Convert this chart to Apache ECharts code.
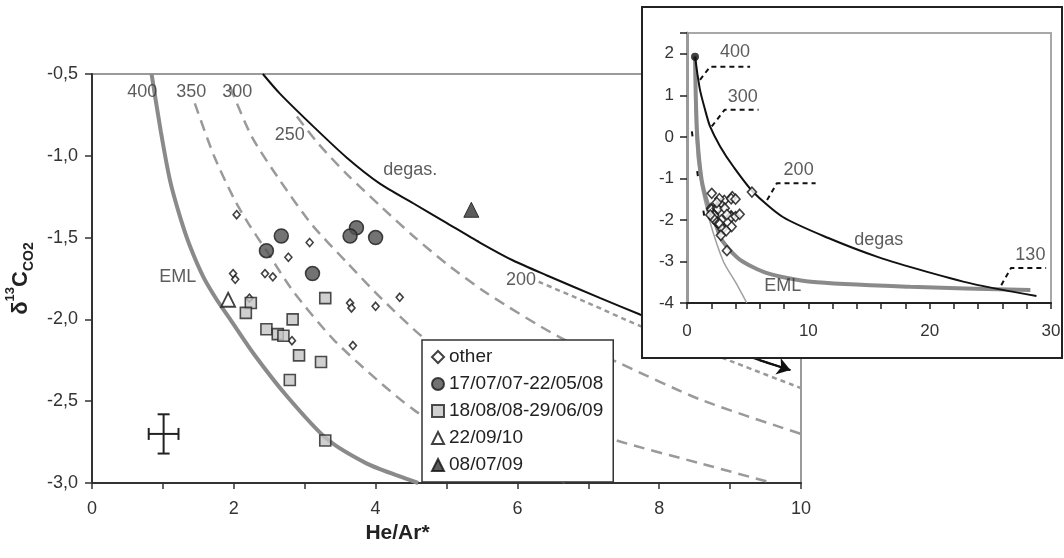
<!DOCTYPE html>
<html><head><meta charset="utf-8">
<script src="https://cdn.jsdelivr.net/npm/echarts@6/dist/echarts.min.js"></script>
<style>html,body{margin:0;padding:0;background:#fff}#c{width:1064px;height:558px}</style>
</head><body><div id="c"></div>
<script>
// ---------- main chart: samples ----------
const otherX = [2.04, 3.07, 2.77, 1.99, 2.02, 2.44, 2.55, 3.64, 3.66, 4.00, 4.34, 2.82, 3.68, 2.22];
const otherY = [-1.36, -1.53, -1.62, -1.72, -1.755, -1.72, -1.74, -1.90, -1.93, -1.92, -1.865, -2.13, -2.16, -1.87];
const circX = [2.67, 2.46, 3.11, 3.73, 3.64, 4.00];
const circY = [-1.49, -1.58, -1.72, -1.44, -1.49, -1.50];
const sqX = [2.24, 2.17, 3.29, 2.83, 2.46, 2.62, 2.70, 2.92, 3.23, 2.79, 3.29];
const sqY = [-1.90, -1.96, -1.87, -2.00, -2.06, -2.09, -2.10, -2.22, -2.26, -2.37, -2.74];
const openTriX = [1.92];
const openTriY = [-1.88];
const fillTriX = [5.35];
const fillTriY = [-1.33];
// analytical error (cross)
const errX = [1.01], errY = [-2.70], errDx = [0.21], errDy = [0.12];

// ---------- main chart: curves ----------
const emlX = [0.84, 0.97, 1.10, 1.24, 1.38, 1.57, 1.76, 1.95, 2.28, 2.75, 3.31, 3.87, 4.34, 4.60];
const emlY = [-0.50, -0.85, -1.15, -1.37, -1.55, -1.74, -1.88, -2.00, -2.21, -2.47, -2.73, -2.88, -2.96, -3.00];
const iso350X = [1.45, 1.72, 2.00, 2.20, 2.46, 2.84, 3.40, 3.97, 4.53, 5.30, 6.00, 6.70];
const iso350Y = [-0.68, -1.00, -1.26, -1.41, -1.58, -1.83, -2.12, -2.35, -2.55, -2.76, -2.90, -3.00];
const iso300X = [1.95, 2.25, 2.65, 3.10, 3.59, 4.10, 4.67, 5.50, 6.50, 7.40, 8.58, 9.60];
const iso300Y = [-0.58, -0.88, -1.15, -1.42, -1.65, -1.88, -2.11, -2.37, -2.60, -2.74, -2.88, -3.00];
const iso250X = [2.89, 3.20, 3.59, 4.10, 4.53, 5.00, 5.57, 6.60, 7.40, 8.58, 10.00];
const iso250Y = [-0.76, -0.93, -1.11, -1.32, -1.49, -1.66, -1.84, -2.11, -2.26, -2.49, -2.70];
const iso200X = [6.30, 7.00, 7.73, 8.40, 9.04, 10.00];
const iso200Y = [-1.77, -1.90, -2.04, -2.15, -2.26, -2.42];
const degasX = [2.41, 2.65, 3.12, 3.59, 4.06, 4.53, 5.00, 5.47, 5.94, 6.41, 7.17, 7.73, 8.60, 9.42, 9.85];
const degasY = [-0.50, -0.62, -0.82, -1.01, -1.17, -1.29, -1.41, -1.53, -1.64, -1.73, -1.87, -1.97, -2.12, -2.25, -2.31];

// main annotations
const mainNoteText = ['400', '350', '300', '250', '200', 'degas.', 'EML'];
const mainNoteX = [0.71, 1.40, 2.05, 2.79, 6.05, 4.49, 1.21];
const mainNoteY = [-0.61, -0.61, -0.61, -0.87, -1.76, -1.09, -1.74];

// ---------- inset curves ----------
const insDegasX = [0.66, 0.85, 1.07, 1.49, 1.90, 2.73, 3.83, 5.43, 7.90, 11.6, 15.7, 19.8, 24.0, 28.8];
const insDegasY = [1.93, 1.53, 1.13, 0.65, 0.25, -0.23, -0.72, -1.32, -1.93, -2.43, -2.89, -3.25, -3.57, -3.83];
const insEmlX = [0.66, 0.72, 0.85, 1.21, 1.70, 2.30, 2.90, 4.38, 6.60, 10.2, 18.4, 28.3];
const insEmlY = [1.93, 1.00, 0.00, -1.04, -1.60, -2.05, -2.50, -2.96, -3.28, -3.49, -3.61, -3.69];
const insThinX = [0.66, 0.73, 1.07, 1.85, 3.00, 4.00, 4.93];
const insThinY = [1.93, 0.00, -1.00, -2.00, -3.00, -3.50, -4.00];
const insDashX = [0.40, 0.90, 1.50, 2.60];
const insDashY = [0.13, -0.95, -2.05, -2.45];
const endMemberX = [0.66], endMemberY = [1.93];
// leader lines + labels
const leaderText = ['400', '300', '200', '130'];
const leaderX = [[1.07, 1.9, 5.2], [2.04, 3.1, 5.9], [6.6, 7.4, 10.6], [25.9, 26.7, 29.6]];
const leaderY = [[1.37, 1.69, 1.69], [0.25, 0.65, 0.65], [-1.52, -1.12, -1.12], [-3.57, -3.16, -3.16]];
const leaderLabelX = [3.96, 4.6, 9.2, 28.3];
const leaderLabelY = [2.05, 0.96, -0.8, -2.84];
const insNoteText = ['degas', 'EML'];
const insNoteX = [15.8, 7.9];
const insNoteY = [-2.48, -3.6];

// tick labels
const yTickFmt = v => v.toFixed(1).replace('.', ',');

const F = "'Liberation Sans', Arial, sans-serif";
const zip = (a, b) => a.map((v, i) => [v, b[i]]);

function curve(name, xs, ys, color, width, type, extra) {
  return Object.assign({
    name, type: 'line', data: zip(xs, ys), symbol: 'none', silent: true, smooth: 0.25,
    lineStyle: { color, width, type }, z: 2
  }, extra || {});
}
function arrowLine(xs, ys, color) {
  const n = xs.length;
  return {
    silent: true, symbol: ['none', 'arrow'], symbolSize: 13,
    lineStyle: { color, width: 2, type: 'solid' }, label: { show: false },
    data: [[{ coord: [xs[n - 2], ys[n - 2]] }, { coord: [xs[n - 1], ys[n - 1]] }]]
  };
}

const ins = { xAxisIndex: 1, yAxisIndex: 1, zlevel: 1, z: 4 };
const allX = otherX.concat(circX, sqX, openTriX, fillTriX);
const allY = otherY.concat(circY, sqY, openTriY, fillTriY);

const series = [
  curve('EML', emlX, emlY, '#8a8a8a', 4, 'solid'),
  curve('350', iso350X, iso350Y, '#9a9a9a', 2.5, [11, 7]),
  curve('300', iso300X, iso300Y, '#9a9a9a', 2.5, [11, 7]),
  curve('250', iso250X, iso250Y, '#9a9a9a', 2.5, [11, 7]),
  curve('200', iso200X, iso200Y, '#9a9a9a', 2.5, [5, 4]),
  curve('degas', degasX, degasY, '#111', 2, 'solid', { markLine: arrowLine(degasX, degasY, '#111') }),
  {
    type: 'scatter', silent: true, symbolSize: 0, z: 3,
    data: mainNoteX.map((x, i) => [x, mainNoteY[i], mainNoteText[i]]),
    label: { show: true, position: 'inside', formatter: p => p.value[2], fontSize: 18, fontFamily: F,
      color: '#333' }
  },
  {
    type: 'custom', silent: true, z: 3,
    data: errX.map((x, i) => [x, errY[i], errDx[i], errDy[i]]),
    renderItem: (params, api) => {
      const x = api.value(0), y = api.value(1), dx = api.value(2), dy = api.value(3);
      const l = api.coord([x - dx, y]), r = api.coord([x + dx, y]);
      const t = api.coord([x, y + dy]), b = api.coord([x, y - dy]);
      const c = 6, st = { stroke: '#222', lineWidth: 2 };
      const ln = (x1, y1, x2, y2) => ({ type: 'line', shape: { x1, y1, x2, y2 }, style: st });
      return { type: 'group', children: [
        ln(l[0], l[1], r[0], r[1]), ln(t[0], t[1], b[0], b[1]),
        ln(l[0], l[1] - c, l[0], l[1] + c), ln(r[0], r[1] - c, r[0], r[1] + c),
        ln(t[0] - c, t[1], t[0] + c, t[1]), ln(b[0] - c, b[1], b[0] + c, b[1])
      ] };
    }
  },
  { name: 'other', type: 'scatter', data: zip(otherX, otherY), symbol: 'diamond', symbolSize: [7, 8], z: 5,
    itemStyle: { color: '#fff', borderColor: '#111', borderWidth: 1.6 } },
  { name: '17/07/07-22/05/08', type: 'scatter', data: zip(circX, circY), symbol: 'circle', symbolSize: 14, z: 5,
    itemStyle: { color: '#505050', borderColor: '#1a1a1a', borderWidth: 1.5 } },
  { name: '18/08/08-29/06/09', type: 'scatter', data: zip(sqX, sqY), symbol: 'rect', symbolSize: 11, z: 5,
    itemStyle: { color: '#c4c4c4', borderColor: '#222', borderWidth: 1.6 } },
  { name: '22/09/10', type: 'scatter', data: zip(openTriX, openTriY), symbol: 'triangle', symbolSize: 14, z: 5,
    itemStyle: { color: '#fff', borderColor: '#111', borderWidth: 1.8 } },
  { name: '08/07/09', type: 'scatter', data: zip(fillTriX, fillTriY), symbol: 'triangle', symbolSize: 15, z: 5,
    itemStyle: { color: '#333', borderColor: '#111', borderWidth: 1 } },

  // ---------- inset ----------
  Object.assign(curve('insThin', insThinX, insThinY, '#a0a0a0', 1.5, 'solid'), ins),
  Object.assign(curve('insEML', insEmlX, insEmlY, '#8a8a8a', 4, 'solid'), ins),
  Object.assign(curve('insDegas', insDegasX, insDegasY, '#111', 2, 'solid',
    { markLine: arrowLine(insDegasX, insDegasY, '#111') }), ins),
  Object.assign(curve('insDash', insDashX, insDashY, '#111', 2, [5, 35], { smooth: false }), ins),
].concat(leaderX.map((xs, k) => Object.assign(
  curve('lead' + k, xs, leaderY[k], '#111', 2, [5, 4], { smooth: false }), ins))
).concat([
  Object.assign({ type: 'scatter', silent: true, data: zip(allX, allY), symbol: 'diamond', symbolSize: [9, 10],
    itemStyle: { color: '#fff', borderColor: '#111', borderWidth: 1.6 } }, ins),
  Object.assign({ type: 'scatter', silent: true, data: zip(endMemberX, endMemberY), symbol: 'circle', symbolSize: 8,
    itemStyle: { color: '#111' } }, ins, { z: 6 }),
  Object.assign({ type: 'scatter', silent: true, symbolSize: 0,
    data: leaderLabelX.map((x, i) => [x, leaderLabelY[i], leaderText[i]])
      .concat(insNoteX.map((x, i) => [x, insNoteY[i], insNoteText[i]])),
    label: { show: true, position: 'inside', formatter: p => p.value[2], fontSize: 18, fontFamily: F, color: '#333' }
  }, ins)
]);

const axLine = (c, w) => ({ show: true, onZero: false, lineStyle: { color: c, width: w } });
const option = {
  animation: false,
  backgroundColor: '#fff',
  textStyle: { fontFamily: F },
  grid: [
    { left: 92, right: 263, top: 74, bottom: 75, show: true, borderColor: '#9a9a9a', borderWidth: 2,
      outerBoundsMode: 'none', containLabel: false },
    { left: 687, right: 13, top: 33, bottom: 255, show: true, borderColor: '#a8a8a8', borderWidth: 2,
      outerBoundsMode: 'none', containLabel: false, zlevel: 1, z: 2 }
  ],
  graphic: [{ type: 'rect', zlevel: 1, z: 1, silent: true,
    shape: { x: 642, y: 7, width: 420, height: 351 },
    style: { fill: '#fff', stroke: '#222', lineWidth: 2 } }],
  legend: {
    orient: 'vertical', left: 422, top: 340, selectedMode: false,
    backgroundColor: '#fff', borderColor: '#333', borderWidth: 1.5,
    padding: [7, 10, 7, 9], itemGap: 7, itemWidth: 12, itemHeight: 12, itemTextGap: 5,
    textStyle: { fontSize: 19, color: '#222', fontFamily: F, lineHeight: 20 },
    data: ['other', '17/07/07-22/05/08', '18/08/08-29/06/09', '22/09/10', '08/07/09']
  },
  xAxis: [
    { type: 'value', gridIndex: 0, min: 0, max: 10, interval: 1,
      axisLine: axLine('#333', 2), axisTick: { show: true, length: 6, lineStyle: { color: '#333', width: 1.5 } },
      splitLine: { show: false },
      axisLabel: { fontSize: 18, color: '#333', margin: 17, fontFamily: F,
        formatter: v => (v % 2 === 0 ? String(v) : '') },
      name: 'He/Ar*', nameLocation: 'middle', nameGap: 40,
      nameTextStyle: { fontSize: 21, fontWeight: 'bold', color: '#222', fontFamily: F, padding: [0, 98, 0, 0] } },
    { type: 'value', gridIndex: 1, min: 0, max: 30, interval: 2, zlevel: 1, z: 3,
      axisLine: axLine('#222', 2), axisTick: { show: true, length: 6, lineStyle: { color: '#222', width: 1.5 } },
      splitLine: { show: false },
      axisLabel: { fontSize: 17, color: '#333', margin: 20, fontFamily: F,
        formatter: v => (v % 10 === 0 ? String(v) : '') } }
  ],
  yAxis: [
    { type: 'value', gridIndex: 0, min: -3, max: -0.5, interval: 0.5,
      axisLine: axLine('#333', 2), axisTick: { show: true, length: 7, lineStyle: { color: '#333', width: 1.5 } },
      splitLine: { show: false },
      axisLabel: { fontSize: 18, color: '#333', margin: 14, fontFamily: F, formatter: yTickFmt },
      name: '{d|δ}{s|13}{c|C}{b|CO2}', nameLocation: 'middle', nameGap: 44, nameRotate: 90,
      nameTextStyle: { rich: {
        d: { fontSize: 22, fontWeight: 'bold', color: '#222', fontFamily: F, lineHeight: 30, verticalAlign: 'bottom' },
        s: { fontSize: 13, fontWeight: 'bold', color: '#222', fontFamily: F, lineHeight: 30, verticalAlign: 'top', padding: [2, 0, 0, 0] },
        c: { fontSize: 22, fontWeight: 'bold', color: '#222', fontFamily: F, lineHeight: 30, verticalAlign: 'bottom' },
        b: { fontSize: 14, fontWeight: 'bold', color: '#222', fontFamily: F, lineHeight: 30, verticalAlign: 'bottom', padding: [0, 0, -4, 0] }
      } } },
    { type: 'value', gridIndex: 1, min: -4, max: 2.5, interval: 1, zlevel: 1, z: 3,
      axisLine: axLine('#9a9a9a', 3), axisTick: { show: true, length: 7, lineStyle: { color: '#222', width: 1.5 } },
      splitLine: { show: false },
      axisLabel: { fontSize: 17, color: '#333', margin: 13, fontFamily: F,
        formatter: v => (Number.isInteger(v) ? String(v) : '') } }
  ],
  series
};
echarts.init(document.getElementById('c'), null, { renderer: 'canvas' }).setOption(option);
</script>
</body></html>
